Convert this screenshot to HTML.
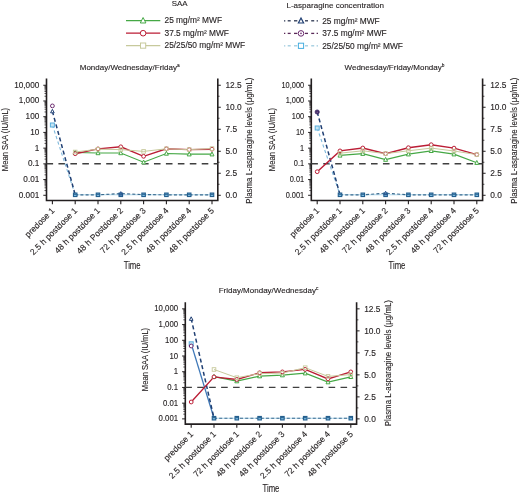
<!DOCTYPE html>
<html><head><meta charset="utf-8"><style>
html,body{margin:0;padding:0;background:#fff;}
svg{display:block;font-family:"Liberation Sans", sans-serif;will-change:transform;} text{stroke:#231f20;stroke-width:0.12px;}
</style></head><body>
<svg width="520" height="495" viewBox="0 0 520 495">
<rect width="520" height="495" fill="#fff"/>
<text x="179.60" y="6.40" font-size="7.9" text-anchor="middle" fill="#231f20" >SAA</text>
<text x="335.20" y="8.40" font-size="8.05" text-anchor="middle" fill="#231f20" >L-asparagine concentration</text>
<line x1="126" y1="20.6" x2="160.3" y2="20.6" stroke="#45a845" stroke-width="1.2"/>
<path d="M143.10,17.52 L145.90,22.98 L140.30,22.98 Z" fill="#fff" stroke="#45a845" stroke-width="1.0"/>
<text x="164.50" y="23.40" font-size="8.35" text-anchor="start" fill="#231f20" >25 mg/m² MWF</text>
<line x1="126" y1="33.2" x2="160.3" y2="33.2" stroke="#bb1d35" stroke-width="1.2"/>
<circle cx="143.10" cy="33.20" r="2.8" fill="#fff" stroke="#bb1d35" stroke-width="1.0"/>
<text x="164.50" y="36.00" font-size="8.35" text-anchor="start" fill="#231f20" >37.5 mg/m² MWF</text>
<line x1="126" y1="45.6" x2="160.3" y2="45.6" stroke="#c7c99c" stroke-width="1.2"/>
<rect x="140.50" y="43.00" width="5.20" height="5.20" fill="#fff" stroke="#c7c99c" stroke-width="1.0"/>
<text x="164.50" y="48.40" font-size="8.35" text-anchor="start" fill="#231f20" >25/25/50 mg/m² MWF</text>
<line x1="284" y1="20.8" x2="285.3" y2="20.8" stroke="#2a3550" stroke-width="1.3"/>
<line x1="287.7" y1="20.8" x2="290.7" y2="20.8" stroke="#2a3550" stroke-width="1.3"/>
<line x1="294" y1="20.8" x2="297.3" y2="20.8" stroke="#2a3550" stroke-width="1.3"/>
<line x1="305" y1="20.8" x2="308" y2="20.8" stroke="#2a3550" stroke-width="1.3"/>
<line x1="311.2" y1="20.8" x2="314.2" y2="20.8" stroke="#2a3550" stroke-width="1.3"/>
<line x1="316.6" y1="20.8" x2="318" y2="20.8" stroke="#2a3550" stroke-width="1.3"/>
<path d="M301.00,17.94 L303.60,23.01 L298.40,23.01 Z" fill="#fff" stroke="#1f3f73" stroke-width="1.2"/>
<text x="322.20" y="23.60" font-size="8.35" text-anchor="start" fill="#231f20" >25 mg/m² MWF</text>
<line x1="284" y1="33.400000000000006" x2="285.3" y2="33.400000000000006" stroke="#5a2a58" stroke-width="1.3"/>
<line x1="287.7" y1="33.400000000000006" x2="290.7" y2="33.400000000000006" stroke="#5a2a58" stroke-width="1.3"/>
<line x1="294" y1="33.400000000000006" x2="297.3" y2="33.400000000000006" stroke="#5a2a58" stroke-width="1.3"/>
<line x1="305" y1="33.400000000000006" x2="308" y2="33.400000000000006" stroke="#5a2a58" stroke-width="1.3"/>
<line x1="311.2" y1="33.400000000000006" x2="314.2" y2="33.400000000000006" stroke="#5a2a58" stroke-width="1.3"/>
<line x1="316.6" y1="33.400000000000006" x2="318" y2="33.400000000000006" stroke="#5a2a58" stroke-width="1.3"/>
<circle cx="301.00" cy="33.40" r="2.8" fill="#fff" stroke="#6a2a6e" stroke-width="1.0"/><circle cx="301.00" cy="33.40" r="0.8" fill="#6a2a6e"/>
<text x="322.20" y="36.20" font-size="8.35" text-anchor="start" fill="#231f20" >37.5 mg/m² MWF</text>
<line x1="284" y1="45.800000000000004" x2="285.3" y2="45.800000000000004" stroke="#9ccade" stroke-width="1.3"/>
<line x1="287.7" y1="45.800000000000004" x2="290.7" y2="45.800000000000004" stroke="#9ccade" stroke-width="1.3"/>
<line x1="294" y1="45.800000000000004" x2="297.3" y2="45.800000000000004" stroke="#9ccade" stroke-width="1.3"/>
<line x1="305" y1="45.800000000000004" x2="308" y2="45.800000000000004" stroke="#9ccade" stroke-width="1.3"/>
<line x1="311.2" y1="45.800000000000004" x2="314.2" y2="45.800000000000004" stroke="#9ccade" stroke-width="1.3"/>
<line x1="316.6" y1="45.800000000000004" x2="318" y2="45.800000000000004" stroke="#9ccade" stroke-width="1.3"/>
<rect x="298.40" y="43.20" width="5.20" height="5.20" fill="#fff" stroke="#47aee0" stroke-width="1.0"/>
<text x="322.20" y="48.60" font-size="8.35" text-anchor="start" fill="#231f20" >25/25/50 mg/m² MWF</text>
<g transform="translate(0,0)">
<text x="129.7" y="69.7" font-size="8" text-anchor="middle" fill="#231f20">Monday/Wednesday/Friday<tspan font-size="4.8" dy="-3">a</tspan></text>
<path d="M46.5,78.6 V200.55 H217.8 V78.6" fill="none" stroke="#231f20" stroke-width="1.6"/>
<line x1="43.3" y1="85.25" x2="46.5" y2="85.25" stroke="#231f20" stroke-width="1"/>
<text x="39.30" y="87.75" font-size="8.2" text-anchor="end" fill="#231f20" textLength="25.08" lengthAdjust="spacingAndGlyphs">10,000</text>
<line x1="44.5" y1="96.24" x2="46.5" y2="96.24" stroke="#231f20" stroke-width="0.75"/>
<line x1="44.5" y1="93.47" x2="46.5" y2="93.47" stroke="#231f20" stroke-width="0.75"/>
<line x1="44.5" y1="91.51" x2="46.5" y2="91.51" stroke="#231f20" stroke-width="0.75"/>
<line x1="44.5" y1="89.98" x2="46.5" y2="89.98" stroke="#231f20" stroke-width="0.75"/>
<line x1="44.5" y1="88.74" x2="46.5" y2="88.74" stroke="#231f20" stroke-width="0.75"/>
<line x1="44.5" y1="87.69" x2="46.5" y2="87.69" stroke="#231f20" stroke-width="0.75"/>
<line x1="44.5" y1="86.77" x2="46.5" y2="86.77" stroke="#231f20" stroke-width="0.75"/>
<line x1="44.5" y1="85.97" x2="46.5" y2="85.97" stroke="#231f20" stroke-width="0.75"/>
<line x1="43.3" y1="100.97" x2="46.5" y2="100.97" stroke="#231f20" stroke-width="1"/>
<text x="39.30" y="103.47" font-size="8.2" text-anchor="end" fill="#231f20" textLength="20.52" lengthAdjust="spacingAndGlyphs">1,000</text>
<line x1="44.5" y1="111.96" x2="46.5" y2="111.96" stroke="#231f20" stroke-width="0.75"/>
<line x1="44.5" y1="109.19" x2="46.5" y2="109.19" stroke="#231f20" stroke-width="0.75"/>
<line x1="44.5" y1="107.23" x2="46.5" y2="107.23" stroke="#231f20" stroke-width="0.75"/>
<line x1="44.5" y1="105.70" x2="46.5" y2="105.70" stroke="#231f20" stroke-width="0.75"/>
<line x1="44.5" y1="104.46" x2="46.5" y2="104.46" stroke="#231f20" stroke-width="0.75"/>
<line x1="44.5" y1="103.41" x2="46.5" y2="103.41" stroke="#231f20" stroke-width="0.75"/>
<line x1="44.5" y1="102.49" x2="46.5" y2="102.49" stroke="#231f20" stroke-width="0.75"/>
<line x1="44.5" y1="101.69" x2="46.5" y2="101.69" stroke="#231f20" stroke-width="0.75"/>
<line x1="43.3" y1="116.69" x2="46.5" y2="116.69" stroke="#231f20" stroke-width="1"/>
<text x="39.30" y="119.19" font-size="8.2" text-anchor="end" fill="#231f20" textLength="13.68" lengthAdjust="spacingAndGlyphs">100</text>
<line x1="44.5" y1="127.68" x2="46.5" y2="127.68" stroke="#231f20" stroke-width="0.75"/>
<line x1="44.5" y1="124.91" x2="46.5" y2="124.91" stroke="#231f20" stroke-width="0.75"/>
<line x1="44.5" y1="122.95" x2="46.5" y2="122.95" stroke="#231f20" stroke-width="0.75"/>
<line x1="44.5" y1="121.42" x2="46.5" y2="121.42" stroke="#231f20" stroke-width="0.75"/>
<line x1="44.5" y1="120.18" x2="46.5" y2="120.18" stroke="#231f20" stroke-width="0.75"/>
<line x1="44.5" y1="119.13" x2="46.5" y2="119.13" stroke="#231f20" stroke-width="0.75"/>
<line x1="44.5" y1="118.21" x2="46.5" y2="118.21" stroke="#231f20" stroke-width="0.75"/>
<line x1="44.5" y1="117.41" x2="46.5" y2="117.41" stroke="#231f20" stroke-width="0.75"/>
<line x1="43.3" y1="132.41" x2="46.5" y2="132.41" stroke="#231f20" stroke-width="1"/>
<text x="39.30" y="134.91" font-size="8.2" text-anchor="end" fill="#231f20" textLength="9.12" lengthAdjust="spacingAndGlyphs">10</text>
<line x1="44.5" y1="143.40" x2="46.5" y2="143.40" stroke="#231f20" stroke-width="0.75"/>
<line x1="44.5" y1="140.63" x2="46.5" y2="140.63" stroke="#231f20" stroke-width="0.75"/>
<line x1="44.5" y1="138.67" x2="46.5" y2="138.67" stroke="#231f20" stroke-width="0.75"/>
<line x1="44.5" y1="137.14" x2="46.5" y2="137.14" stroke="#231f20" stroke-width="0.75"/>
<line x1="44.5" y1="135.90" x2="46.5" y2="135.90" stroke="#231f20" stroke-width="0.75"/>
<line x1="44.5" y1="134.85" x2="46.5" y2="134.85" stroke="#231f20" stroke-width="0.75"/>
<line x1="44.5" y1="133.93" x2="46.5" y2="133.93" stroke="#231f20" stroke-width="0.75"/>
<line x1="44.5" y1="133.13" x2="46.5" y2="133.13" stroke="#231f20" stroke-width="0.75"/>
<line x1="43.3" y1="148.13" x2="46.5" y2="148.13" stroke="#231f20" stroke-width="1"/>
<text x="39.30" y="150.63" font-size="8.2" text-anchor="end" fill="#231f20" textLength="4.56" lengthAdjust="spacingAndGlyphs">1</text>
<line x1="44.5" y1="159.12" x2="46.5" y2="159.12" stroke="#231f20" stroke-width="0.75"/>
<line x1="44.5" y1="156.35" x2="46.5" y2="156.35" stroke="#231f20" stroke-width="0.75"/>
<line x1="44.5" y1="154.39" x2="46.5" y2="154.39" stroke="#231f20" stroke-width="0.75"/>
<line x1="44.5" y1="152.86" x2="46.5" y2="152.86" stroke="#231f20" stroke-width="0.75"/>
<line x1="44.5" y1="151.62" x2="46.5" y2="151.62" stroke="#231f20" stroke-width="0.75"/>
<line x1="44.5" y1="150.57" x2="46.5" y2="150.57" stroke="#231f20" stroke-width="0.75"/>
<line x1="44.5" y1="149.65" x2="46.5" y2="149.65" stroke="#231f20" stroke-width="0.75"/>
<line x1="44.5" y1="148.85" x2="46.5" y2="148.85" stroke="#231f20" stroke-width="0.75"/>
<line x1="43.3" y1="163.85" x2="46.5" y2="163.85" stroke="#231f20" stroke-width="1"/>
<text x="39.30" y="166.35" font-size="8.2" text-anchor="end" fill="#231f20" textLength="11.40" lengthAdjust="spacingAndGlyphs">0.1</text>
<line x1="44.5" y1="174.84" x2="46.5" y2="174.84" stroke="#231f20" stroke-width="0.75"/>
<line x1="44.5" y1="172.07" x2="46.5" y2="172.07" stroke="#231f20" stroke-width="0.75"/>
<line x1="44.5" y1="170.11" x2="46.5" y2="170.11" stroke="#231f20" stroke-width="0.75"/>
<line x1="44.5" y1="168.58" x2="46.5" y2="168.58" stroke="#231f20" stroke-width="0.75"/>
<line x1="44.5" y1="167.34" x2="46.5" y2="167.34" stroke="#231f20" stroke-width="0.75"/>
<line x1="44.5" y1="166.29" x2="46.5" y2="166.29" stroke="#231f20" stroke-width="0.75"/>
<line x1="44.5" y1="165.37" x2="46.5" y2="165.37" stroke="#231f20" stroke-width="0.75"/>
<line x1="44.5" y1="164.57" x2="46.5" y2="164.57" stroke="#231f20" stroke-width="0.75"/>
<line x1="43.3" y1="179.57" x2="46.5" y2="179.57" stroke="#231f20" stroke-width="1"/>
<text x="39.30" y="182.07" font-size="8.2" text-anchor="end" fill="#231f20" textLength="15.96" lengthAdjust="spacingAndGlyphs">0.01</text>
<line x1="44.5" y1="190.56" x2="46.5" y2="190.56" stroke="#231f20" stroke-width="0.75"/>
<line x1="44.5" y1="187.79" x2="46.5" y2="187.79" stroke="#231f20" stroke-width="0.75"/>
<line x1="44.5" y1="185.83" x2="46.5" y2="185.83" stroke="#231f20" stroke-width="0.75"/>
<line x1="44.5" y1="184.30" x2="46.5" y2="184.30" stroke="#231f20" stroke-width="0.75"/>
<line x1="44.5" y1="183.06" x2="46.5" y2="183.06" stroke="#231f20" stroke-width="0.75"/>
<line x1="44.5" y1="182.01" x2="46.5" y2="182.01" stroke="#231f20" stroke-width="0.75"/>
<line x1="44.5" y1="181.09" x2="46.5" y2="181.09" stroke="#231f20" stroke-width="0.75"/>
<line x1="44.5" y1="180.29" x2="46.5" y2="180.29" stroke="#231f20" stroke-width="0.75"/>
<line x1="43.3" y1="195.29" x2="46.5" y2="195.29" stroke="#231f20" stroke-width="1"/>
<text x="39.30" y="197.79" font-size="8.2" text-anchor="end" fill="#231f20" textLength="20.52" lengthAdjust="spacingAndGlyphs">0.001</text>
<line x1="217.8" y1="85.25" x2="220.8" y2="85.25" stroke="#231f20" stroke-width="1"/>
<text x="225.40" y="88.05" font-size="8.4" text-anchor="start" fill="#231f20" >12.5</text>
<line x1="217.8" y1="96.25" x2="219.60000000000002" y2="96.25" stroke="#231f20" stroke-width="0.8"/>
<line x1="217.8" y1="107.26" x2="220.8" y2="107.26" stroke="#231f20" stroke-width="1"/>
<text x="225.40" y="110.06" font-size="8.4" text-anchor="start" fill="#231f20" >10.0</text>
<line x1="217.8" y1="118.26" x2="219.60000000000002" y2="118.26" stroke="#231f20" stroke-width="0.8"/>
<line x1="217.8" y1="129.27" x2="220.8" y2="129.27" stroke="#231f20" stroke-width="1"/>
<text x="225.40" y="132.07" font-size="8.4" text-anchor="start" fill="#231f20" >7.5</text>
<line x1="217.8" y1="140.27" x2="219.60000000000002" y2="140.27" stroke="#231f20" stroke-width="0.8"/>
<line x1="217.8" y1="151.27" x2="220.8" y2="151.27" stroke="#231f20" stroke-width="1"/>
<text x="225.40" y="154.07" font-size="8.4" text-anchor="start" fill="#231f20" >5.0</text>
<line x1="217.8" y1="162.28" x2="219.60000000000002" y2="162.28" stroke="#231f20" stroke-width="0.8"/>
<line x1="217.8" y1="173.28" x2="220.8" y2="173.28" stroke="#231f20" stroke-width="1"/>
<text x="225.40" y="176.08" font-size="8.4" text-anchor="start" fill="#231f20" >2.5</text>
<line x1="217.8" y1="184.29" x2="219.60000000000002" y2="184.29" stroke="#231f20" stroke-width="0.8"/>
<line x1="217.8" y1="195.29" x2="220.8" y2="195.29" stroke="#231f20" stroke-width="1"/>
<text x="225.40" y="198.09" font-size="8.4" text-anchor="start" fill="#231f20" >0.0</text>
<line x1="52.40" y1="200.55" x2="52.40" y2="204.15" stroke="#231f20" stroke-width="1.1"/>
<text transform="translate(55.10,211.15) rotate(-45)" font-size="8.5" text-anchor="end" fill="#231f20">predose 1</text>
<line x1="75.20" y1="200.55" x2="75.20" y2="204.15" stroke="#231f20" stroke-width="1.1"/>
<text transform="translate(77.90,211.15) rotate(-45)" font-size="8.5" text-anchor="end" fill="#231f20">2.5 h postdose 1</text>
<line x1="98.00" y1="200.55" x2="98.00" y2="204.15" stroke="#231f20" stroke-width="1.1"/>
<text transform="translate(100.70,211.15) rotate(-45)" font-size="8.5" text-anchor="end" fill="#231f20">48 h postdose 1</text>
<line x1="120.80" y1="200.55" x2="120.80" y2="204.15" stroke="#231f20" stroke-width="1.1"/>
<text transform="translate(123.50,211.15) rotate(-45)" font-size="8.5" text-anchor="end" fill="#231f20">48 h Postdose 2</text>
<line x1="143.60" y1="200.55" x2="143.60" y2="204.15" stroke="#231f20" stroke-width="1.1"/>
<text transform="translate(146.30,211.15) rotate(-45)" font-size="8.5" text-anchor="end" fill="#231f20">72 h postdose 3</text>
<line x1="166.40" y1="200.55" x2="166.40" y2="204.15" stroke="#231f20" stroke-width="1.1"/>
<text transform="translate(169.10,211.15) rotate(-45)" font-size="8.5" text-anchor="end" fill="#231f20">2.5 h postdose 4</text>
<line x1="189.20" y1="200.55" x2="189.20" y2="204.15" stroke="#231f20" stroke-width="1.1"/>
<text transform="translate(191.90,211.15) rotate(-45)" font-size="8.5" text-anchor="end" fill="#231f20">48 h postdose 4</text>
<line x1="212.00" y1="200.55" x2="212.00" y2="204.15" stroke="#231f20" stroke-width="1.1"/>
<text transform="translate(214.70,211.15) rotate(-45)" font-size="8.5" text-anchor="end" fill="#231f20">48 h postdose 5</text>
<text transform="translate(8.4,139.5) rotate(-90)" font-size="9.2" text-anchor="middle" fill="#231f20" textLength="63.3" lengthAdjust="spacingAndGlyphs">Mean SAA (IU/mL)</text>
<text transform="translate(251.9,140.7) rotate(-90)" font-size="9.3" text-anchor="middle" fill="#231f20" textLength="126.2" lengthAdjust="spacingAndGlyphs">Plasma L-asparagine levels (μg/mL)</text>
<text x="132.15" y="268.8" font-size="10.3" text-anchor="middle" fill="#231f20" textLength="16.9" lengthAdjust="spacingAndGlyphs">Time</text>
<line x1="46.5" y1="163.75" x2="217.8" y2="163.75" stroke="#404040" stroke-width="1.35" stroke-dasharray="6.6,5.34"/>
<polyline points="52.40,125.00 75.20,194.80" fill="none" stroke="#7fb9dc" stroke-width="1.1" stroke-dasharray="3.2,2.6"/>
<polyline points="52.40,111.30 75.20,194.80" fill="none" stroke="#1f3f73" stroke-width="1.5" stroke-dasharray="4,2.8"/>
<polyline points="75.20,194.80 98.00,194.80 120.80,194.80 143.60,194.80 166.40,194.80 189.20,194.80 212.00,194.80" fill="none" stroke="#b0d8ec" stroke-width="1.1"/>
<polyline points="75.20,194.80 98.00,194.80 120.80,193.60 143.60,194.60 166.40,194.80 189.20,194.80 212.00,194.80" fill="none" stroke="#3a6a8e" stroke-width="1.15" stroke-dasharray="3,2.2"/>
<polyline points="75.20,152.50 98.00,153.00 120.80,153.00 143.60,162.20 166.40,153.50 189.20,154.20 212.00,154.20" fill="none" stroke="#45a845" stroke-width="1.2"/>
<polyline points="75.20,153.70 98.00,148.90 120.80,146.80 143.60,156.30 166.40,148.80 189.20,149.60 212.00,149.20" fill="none" stroke="#bb1d35" stroke-width="1.4"/>
<polyline points="75.20,152.00 98.00,149.20 120.80,149.60 143.60,151.40 166.40,148.80 189.20,149.60 212.00,148.60" fill="none" stroke="#c7c99c" stroke-width="1.0"/>
<path d="M75.20,150.30 L77.20,154.20 L73.20,154.20 Z" fill="#fff" stroke="#45a845" stroke-width="1.0"/>
<path d="M98.00,150.80 L100.00,154.70 L96.00,154.70 Z" fill="#fff" stroke="#45a845" stroke-width="1.0"/>
<path d="M120.80,150.80 L122.80,154.70 L118.80,154.70 Z" fill="#fff" stroke="#45a845" stroke-width="1.0"/>
<path d="M143.60,160.00 L145.60,163.90 L141.60,163.90 Z" fill="#fff" stroke="#45a845" stroke-width="1.0"/>
<path d="M166.40,151.30 L168.40,155.20 L164.40,155.20 Z" fill="#fff" stroke="#45a845" stroke-width="1.0"/>
<path d="M189.20,152.00 L191.20,155.90 L187.20,155.90 Z" fill="#fff" stroke="#45a845" stroke-width="1.0"/>
<path d="M212.00,152.00 L214.00,155.90 L210.00,155.90 Z" fill="#fff" stroke="#45a845" stroke-width="1.0"/>
<circle cx="75.20" cy="153.70" r="1.9" fill="#fff" stroke="#bb1d35" stroke-width="1.0"/>
<circle cx="98.00" cy="148.90" r="1.9" fill="#fff" stroke="#bb1d35" stroke-width="1.0"/>
<circle cx="120.80" cy="146.80" r="1.9" fill="#fff" stroke="#bb1d35" stroke-width="1.0"/>
<circle cx="143.60" cy="156.30" r="1.9" fill="#fff" stroke="#bb1d35" stroke-width="1.0"/>
<circle cx="166.40" cy="148.80" r="1.9" fill="#fff" stroke="#bb1d35" stroke-width="1.0"/>
<circle cx="189.20" cy="149.60" r="1.9" fill="#fff" stroke="#bb1d35" stroke-width="1.0"/>
<circle cx="212.00" cy="149.20" r="1.9" fill="#fff" stroke="#bb1d35" stroke-width="1.0"/>
<rect x="73.40" y="150.20" width="3.60" height="3.60" fill="none" stroke="#c7c99c" stroke-width="0.9"/>
<rect x="96.20" y="147.40" width="3.60" height="3.60" fill="none" stroke="#c7c99c" stroke-width="0.9"/>
<rect x="119.00" y="147.80" width="3.60" height="3.60" fill="none" stroke="#c7c99c" stroke-width="0.9"/>
<rect x="141.80" y="149.60" width="3.60" height="3.60" fill="none" stroke="#c7c99c" stroke-width="0.9"/>
<rect x="164.60" y="147.00" width="3.60" height="3.60" fill="none" stroke="#c7c99c" stroke-width="0.9"/>
<rect x="187.40" y="147.80" width="3.60" height="3.60" fill="none" stroke="#c7c99c" stroke-width="0.9"/>
<rect x="210.20" y="146.80" width="3.60" height="3.60" fill="none" stroke="#c7c99c" stroke-width="0.9"/>
<rect x="50.40" y="123.00" width="4.00" height="4.00" fill="#c4e4f4" stroke="#5aaedc" stroke-width="1.0"/>
<circle cx="52.40" cy="105.90" r="1.9" fill="#fff" stroke="#6a2a6e" stroke-width="1.0"/>
<path d="M52.40,109.32 L54.20,112.83 L50.60,112.83 Z" fill="#fff" stroke="#1f3f73" stroke-width="1.0"/>
<rect x="73.45" y="193.05" width="3.5" height="3.5" fill="#78b8de" stroke="#245f8e" stroke-width="1.1"/>
<rect x="73.80" y="193.80" width="2.8" height="0.9" fill="#1f5585"/>
<rect x="96.25" y="193.05" width="3.5" height="3.5" fill="#78b8de" stroke="#245f8e" stroke-width="1.1"/>
<rect x="96.60" y="193.80" width="2.8" height="0.9" fill="#1f5585"/>
<rect x="119.05" y="193.05" width="3.5" height="3.5" fill="#78b8de" stroke="#245f8e" stroke-width="1.1"/>
<rect x="119.40" y="193.80" width="2.8" height="0.9" fill="#1f5585"/>
<path d="M120.80,191.62 L122.60,195.13 L119.00,195.13 Z" fill="none" stroke="#2a5590" stroke-width="1.0"/>
<rect x="141.85" y="193.05" width="3.5" height="3.5" fill="#78b8de" stroke="#245f8e" stroke-width="1.1"/>
<rect x="142.20" y="193.80" width="2.8" height="0.9" fill="#1f5585"/>
<rect x="164.65" y="193.05" width="3.5" height="3.5" fill="#78b8de" stroke="#245f8e" stroke-width="1.1"/>
<rect x="165.00" y="193.80" width="2.8" height="0.9" fill="#1f5585"/>
<rect x="187.45" y="193.05" width="3.5" height="3.5" fill="#78b8de" stroke="#245f8e" stroke-width="1.1"/>
<rect x="187.80" y="193.80" width="2.8" height="0.9" fill="#1f5585"/>
<rect x="210.25" y="193.05" width="3.5" height="3.5" fill="#78b8de" stroke="#245f8e" stroke-width="1.1"/>
<rect x="210.60" y="193.80" width="2.8" height="0.9" fill="#1f5585"/>
</g>
<g transform="translate(264.8,0)">
<text x="129.7" y="69.7" font-size="8" text-anchor="middle" fill="#231f20">Wednesday/Friday/Monday<tspan font-size="4.8" dy="-3">b</tspan></text>
<path d="M46.5,78.6 V200.55 H217.8 V78.6" fill="none" stroke="#231f20" stroke-width="1.6"/>
<line x1="43.3" y1="85.25" x2="46.5" y2="85.25" stroke="#231f20" stroke-width="1"/>
<text x="39.30" y="87.75" font-size="8.2" text-anchor="end" fill="#231f20" textLength="22.57" lengthAdjust="spacingAndGlyphs">10,000</text>
<line x1="44.5" y1="96.24" x2="46.5" y2="96.24" stroke="#231f20" stroke-width="0.75"/>
<line x1="44.5" y1="93.47" x2="46.5" y2="93.47" stroke="#231f20" stroke-width="0.75"/>
<line x1="44.5" y1="91.51" x2="46.5" y2="91.51" stroke="#231f20" stroke-width="0.75"/>
<line x1="44.5" y1="89.98" x2="46.5" y2="89.98" stroke="#231f20" stroke-width="0.75"/>
<line x1="44.5" y1="88.74" x2="46.5" y2="88.74" stroke="#231f20" stroke-width="0.75"/>
<line x1="44.5" y1="87.69" x2="46.5" y2="87.69" stroke="#231f20" stroke-width="0.75"/>
<line x1="44.5" y1="86.77" x2="46.5" y2="86.77" stroke="#231f20" stroke-width="0.75"/>
<line x1="44.5" y1="85.97" x2="46.5" y2="85.97" stroke="#231f20" stroke-width="0.75"/>
<line x1="43.3" y1="100.97" x2="46.5" y2="100.97" stroke="#231f20" stroke-width="1"/>
<text x="39.30" y="103.47" font-size="8.2" text-anchor="end" fill="#231f20" textLength="18.47" lengthAdjust="spacingAndGlyphs">1,000</text>
<line x1="44.5" y1="111.96" x2="46.5" y2="111.96" stroke="#231f20" stroke-width="0.75"/>
<line x1="44.5" y1="109.19" x2="46.5" y2="109.19" stroke="#231f20" stroke-width="0.75"/>
<line x1="44.5" y1="107.23" x2="46.5" y2="107.23" stroke="#231f20" stroke-width="0.75"/>
<line x1="44.5" y1="105.70" x2="46.5" y2="105.70" stroke="#231f20" stroke-width="0.75"/>
<line x1="44.5" y1="104.46" x2="46.5" y2="104.46" stroke="#231f20" stroke-width="0.75"/>
<line x1="44.5" y1="103.41" x2="46.5" y2="103.41" stroke="#231f20" stroke-width="0.75"/>
<line x1="44.5" y1="102.49" x2="46.5" y2="102.49" stroke="#231f20" stroke-width="0.75"/>
<line x1="44.5" y1="101.69" x2="46.5" y2="101.69" stroke="#231f20" stroke-width="0.75"/>
<line x1="43.3" y1="116.69" x2="46.5" y2="116.69" stroke="#231f20" stroke-width="1"/>
<text x="39.30" y="119.19" font-size="8.2" text-anchor="end" fill="#231f20" textLength="12.31" lengthAdjust="spacingAndGlyphs">100</text>
<line x1="44.5" y1="127.68" x2="46.5" y2="127.68" stroke="#231f20" stroke-width="0.75"/>
<line x1="44.5" y1="124.91" x2="46.5" y2="124.91" stroke="#231f20" stroke-width="0.75"/>
<line x1="44.5" y1="122.95" x2="46.5" y2="122.95" stroke="#231f20" stroke-width="0.75"/>
<line x1="44.5" y1="121.42" x2="46.5" y2="121.42" stroke="#231f20" stroke-width="0.75"/>
<line x1="44.5" y1="120.18" x2="46.5" y2="120.18" stroke="#231f20" stroke-width="0.75"/>
<line x1="44.5" y1="119.13" x2="46.5" y2="119.13" stroke="#231f20" stroke-width="0.75"/>
<line x1="44.5" y1="118.21" x2="46.5" y2="118.21" stroke="#231f20" stroke-width="0.75"/>
<line x1="44.5" y1="117.41" x2="46.5" y2="117.41" stroke="#231f20" stroke-width="0.75"/>
<line x1="43.3" y1="132.41" x2="46.5" y2="132.41" stroke="#231f20" stroke-width="1"/>
<text x="39.30" y="134.91" font-size="8.2" text-anchor="end" fill="#231f20" textLength="8.21" lengthAdjust="spacingAndGlyphs">10</text>
<line x1="44.5" y1="143.40" x2="46.5" y2="143.40" stroke="#231f20" stroke-width="0.75"/>
<line x1="44.5" y1="140.63" x2="46.5" y2="140.63" stroke="#231f20" stroke-width="0.75"/>
<line x1="44.5" y1="138.67" x2="46.5" y2="138.67" stroke="#231f20" stroke-width="0.75"/>
<line x1="44.5" y1="137.14" x2="46.5" y2="137.14" stroke="#231f20" stroke-width="0.75"/>
<line x1="44.5" y1="135.90" x2="46.5" y2="135.90" stroke="#231f20" stroke-width="0.75"/>
<line x1="44.5" y1="134.85" x2="46.5" y2="134.85" stroke="#231f20" stroke-width="0.75"/>
<line x1="44.5" y1="133.93" x2="46.5" y2="133.93" stroke="#231f20" stroke-width="0.75"/>
<line x1="44.5" y1="133.13" x2="46.5" y2="133.13" stroke="#231f20" stroke-width="0.75"/>
<line x1="43.3" y1="148.13" x2="46.5" y2="148.13" stroke="#231f20" stroke-width="1"/>
<text x="39.30" y="150.63" font-size="8.2" text-anchor="end" fill="#231f20" textLength="4.10" lengthAdjust="spacingAndGlyphs">1</text>
<line x1="44.5" y1="159.12" x2="46.5" y2="159.12" stroke="#231f20" stroke-width="0.75"/>
<line x1="44.5" y1="156.35" x2="46.5" y2="156.35" stroke="#231f20" stroke-width="0.75"/>
<line x1="44.5" y1="154.39" x2="46.5" y2="154.39" stroke="#231f20" stroke-width="0.75"/>
<line x1="44.5" y1="152.86" x2="46.5" y2="152.86" stroke="#231f20" stroke-width="0.75"/>
<line x1="44.5" y1="151.62" x2="46.5" y2="151.62" stroke="#231f20" stroke-width="0.75"/>
<line x1="44.5" y1="150.57" x2="46.5" y2="150.57" stroke="#231f20" stroke-width="0.75"/>
<line x1="44.5" y1="149.65" x2="46.5" y2="149.65" stroke="#231f20" stroke-width="0.75"/>
<line x1="44.5" y1="148.85" x2="46.5" y2="148.85" stroke="#231f20" stroke-width="0.75"/>
<line x1="43.3" y1="163.85" x2="46.5" y2="163.85" stroke="#231f20" stroke-width="1"/>
<text x="39.30" y="166.35" font-size="8.2" text-anchor="end" fill="#231f20" textLength="10.26" lengthAdjust="spacingAndGlyphs">0.1</text>
<line x1="44.5" y1="174.84" x2="46.5" y2="174.84" stroke="#231f20" stroke-width="0.75"/>
<line x1="44.5" y1="172.07" x2="46.5" y2="172.07" stroke="#231f20" stroke-width="0.75"/>
<line x1="44.5" y1="170.11" x2="46.5" y2="170.11" stroke="#231f20" stroke-width="0.75"/>
<line x1="44.5" y1="168.58" x2="46.5" y2="168.58" stroke="#231f20" stroke-width="0.75"/>
<line x1="44.5" y1="167.34" x2="46.5" y2="167.34" stroke="#231f20" stroke-width="0.75"/>
<line x1="44.5" y1="166.29" x2="46.5" y2="166.29" stroke="#231f20" stroke-width="0.75"/>
<line x1="44.5" y1="165.37" x2="46.5" y2="165.37" stroke="#231f20" stroke-width="0.75"/>
<line x1="44.5" y1="164.57" x2="46.5" y2="164.57" stroke="#231f20" stroke-width="0.75"/>
<line x1="43.3" y1="179.57" x2="46.5" y2="179.57" stroke="#231f20" stroke-width="1"/>
<text x="39.30" y="182.07" font-size="8.2" text-anchor="end" fill="#231f20" textLength="14.36" lengthAdjust="spacingAndGlyphs">0.01</text>
<line x1="44.5" y1="190.56" x2="46.5" y2="190.56" stroke="#231f20" stroke-width="0.75"/>
<line x1="44.5" y1="187.79" x2="46.5" y2="187.79" stroke="#231f20" stroke-width="0.75"/>
<line x1="44.5" y1="185.83" x2="46.5" y2="185.83" stroke="#231f20" stroke-width="0.75"/>
<line x1="44.5" y1="184.30" x2="46.5" y2="184.30" stroke="#231f20" stroke-width="0.75"/>
<line x1="44.5" y1="183.06" x2="46.5" y2="183.06" stroke="#231f20" stroke-width="0.75"/>
<line x1="44.5" y1="182.01" x2="46.5" y2="182.01" stroke="#231f20" stroke-width="0.75"/>
<line x1="44.5" y1="181.09" x2="46.5" y2="181.09" stroke="#231f20" stroke-width="0.75"/>
<line x1="44.5" y1="180.29" x2="46.5" y2="180.29" stroke="#231f20" stroke-width="0.75"/>
<line x1="43.3" y1="195.29" x2="46.5" y2="195.29" stroke="#231f20" stroke-width="1"/>
<text x="39.30" y="197.79" font-size="8.2" text-anchor="end" fill="#231f20" textLength="18.47" lengthAdjust="spacingAndGlyphs">0.001</text>
<line x1="217.8" y1="85.25" x2="220.8" y2="85.25" stroke="#231f20" stroke-width="1"/>
<text x="225.40" y="88.05" font-size="8.4" text-anchor="start" fill="#231f20" >12.5</text>
<line x1="217.8" y1="96.25" x2="219.60000000000002" y2="96.25" stroke="#231f20" stroke-width="0.8"/>
<line x1="217.8" y1="107.26" x2="220.8" y2="107.26" stroke="#231f20" stroke-width="1"/>
<text x="225.40" y="110.06" font-size="8.4" text-anchor="start" fill="#231f20" >10.0</text>
<line x1="217.8" y1="118.26" x2="219.60000000000002" y2="118.26" stroke="#231f20" stroke-width="0.8"/>
<line x1="217.8" y1="129.27" x2="220.8" y2="129.27" stroke="#231f20" stroke-width="1"/>
<text x="225.40" y="132.07" font-size="8.4" text-anchor="start" fill="#231f20" >7.5</text>
<line x1="217.8" y1="140.27" x2="219.60000000000002" y2="140.27" stroke="#231f20" stroke-width="0.8"/>
<line x1="217.8" y1="151.27" x2="220.8" y2="151.27" stroke="#231f20" stroke-width="1"/>
<text x="225.40" y="154.07" font-size="8.4" text-anchor="start" fill="#231f20" >5.0</text>
<line x1="217.8" y1="162.28" x2="219.60000000000002" y2="162.28" stroke="#231f20" stroke-width="0.8"/>
<line x1="217.8" y1="173.28" x2="220.8" y2="173.28" stroke="#231f20" stroke-width="1"/>
<text x="225.40" y="176.08" font-size="8.4" text-anchor="start" fill="#231f20" >2.5</text>
<line x1="217.8" y1="184.29" x2="219.60000000000002" y2="184.29" stroke="#231f20" stroke-width="0.8"/>
<line x1="217.8" y1="195.29" x2="220.8" y2="195.29" stroke="#231f20" stroke-width="1"/>
<text x="225.40" y="198.09" font-size="8.4" text-anchor="start" fill="#231f20" >0.0</text>
<line x1="52.40" y1="200.55" x2="52.40" y2="204.15" stroke="#231f20" stroke-width="1.1"/>
<text transform="translate(55.10,211.15) rotate(-45)" font-size="8.5" text-anchor="end" fill="#231f20">predose 1</text>
<line x1="75.20" y1="200.55" x2="75.20" y2="204.15" stroke="#231f20" stroke-width="1.1"/>
<text transform="translate(77.90,211.15) rotate(-45)" font-size="8.5" text-anchor="end" fill="#231f20">2.5 h postdose 1</text>
<line x1="98.00" y1="200.55" x2="98.00" y2="204.15" stroke="#231f20" stroke-width="1.1"/>
<text transform="translate(100.70,211.15) rotate(-45)" font-size="8.5" text-anchor="end" fill="#231f20">48 h postdose 1</text>
<line x1="120.80" y1="200.55" x2="120.80" y2="204.15" stroke="#231f20" stroke-width="1.1"/>
<text transform="translate(123.50,211.15) rotate(-45)" font-size="8.5" text-anchor="end" fill="#231f20">72 h postdose 2</text>
<line x1="143.60" y1="200.55" x2="143.60" y2="204.15" stroke="#231f20" stroke-width="1.1"/>
<text transform="translate(146.30,211.15) rotate(-45)" font-size="8.5" text-anchor="end" fill="#231f20">48 h postdose 3</text>
<line x1="166.40" y1="200.55" x2="166.40" y2="204.15" stroke="#231f20" stroke-width="1.1"/>
<text transform="translate(169.10,211.15) rotate(-45)" font-size="8.5" text-anchor="end" fill="#231f20">2.5 h postdose 4</text>
<line x1="189.20" y1="200.55" x2="189.20" y2="204.15" stroke="#231f20" stroke-width="1.1"/>
<text transform="translate(191.90,211.15) rotate(-45)" font-size="8.5" text-anchor="end" fill="#231f20">48 h postdose 4</text>
<line x1="212.00" y1="200.55" x2="212.00" y2="204.15" stroke="#231f20" stroke-width="1.1"/>
<text transform="translate(214.70,211.15) rotate(-45)" font-size="8.5" text-anchor="end" fill="#231f20">72 h postdose 5</text>
<text transform="translate(10.4,139.5) rotate(-90)" font-size="9.2" text-anchor="middle" fill="#231f20" textLength="63.3" lengthAdjust="spacingAndGlyphs">Mean SAA (IU/mL)</text>
<text transform="translate(251.9,140.7) rotate(-90)" font-size="9.3" text-anchor="middle" fill="#231f20" textLength="126.2" lengthAdjust="spacingAndGlyphs">Plasma L-asparagine levels (μg/mL)</text>
<text x="132.15" y="268.8" font-size="10.3" text-anchor="middle" fill="#231f20" textLength="16.9" lengthAdjust="spacingAndGlyphs">Time</text>
<line x1="46.5" y1="163.75" x2="217.8" y2="163.75" stroke="#404040" stroke-width="1.35" stroke-dasharray="6.6,5.34"/>
<polyline points="52.40,128.00 75.20,194.80" fill="none" stroke="#7fb9dc" stroke-width="1.1" stroke-dasharray="3.2,2.6"/>
<polyline points="52.40,112.00 75.20,194.80" fill="none" stroke="#1f3f73" stroke-width="1.5" stroke-dasharray="4,2.8"/>
<polyline points="75.20,194.80 98.00,194.80 120.80,194.80 143.60,194.80 166.40,194.80 189.20,194.80 212.00,194.80" fill="none" stroke="#b0d8ec" stroke-width="1.1"/>
<polyline points="75.20,194.80 98.00,194.80 120.80,193.20 143.60,194.80 166.40,194.80 189.20,194.80 212.00,194.80" fill="none" stroke="#3a6a8e" stroke-width="1.15" stroke-dasharray="3,2.2"/>
<polyline points="75.20,155.40 98.00,153.70 120.80,159.60 143.60,154.20 166.40,150.80 189.20,154.20 212.00,162.70" fill="none" stroke="#45a845" stroke-width="1.2"/>
<polyline points="52.40,171.70 75.20,150.90 98.00,148.00 120.80,153.70 143.60,147.70 166.40,144.70 189.20,148.10 212.00,154.60" fill="none" stroke="#bb1d35" stroke-width="1.4"/>
<polyline points="75.20,153.20 98.00,150.80 120.80,153.60 143.60,150.80 166.40,148.10 189.20,151.00 212.00,154.60" fill="none" stroke="#c7c99c" stroke-width="1.0"/>
<path d="M75.20,153.20 L77.20,157.10 L73.20,157.10 Z" fill="#fff" stroke="#45a845" stroke-width="1.0"/>
<path d="M98.00,151.50 L100.00,155.40 L96.00,155.40 Z" fill="#fff" stroke="#45a845" stroke-width="1.0"/>
<path d="M120.80,157.40 L122.80,161.30 L118.80,161.30 Z" fill="#fff" stroke="#45a845" stroke-width="1.0"/>
<path d="M143.60,152.00 L145.60,155.90 L141.60,155.90 Z" fill="#fff" stroke="#45a845" stroke-width="1.0"/>
<path d="M166.40,148.60 L168.40,152.50 L164.40,152.50 Z" fill="#fff" stroke="#45a845" stroke-width="1.0"/>
<path d="M189.20,152.00 L191.20,155.90 L187.20,155.90 Z" fill="#fff" stroke="#45a845" stroke-width="1.0"/>
<path d="M212.00,160.50 L214.00,164.40 L210.00,164.40 Z" fill="#fff" stroke="#45a845" stroke-width="1.0"/>
<circle cx="52.40" cy="171.70" r="1.9" fill="#fff" stroke="#bb1d35" stroke-width="1.0"/>
<circle cx="75.20" cy="150.90" r="1.9" fill="#fff" stroke="#bb1d35" stroke-width="1.0"/>
<circle cx="98.00" cy="148.00" r="1.9" fill="#fff" stroke="#bb1d35" stroke-width="1.0"/>
<circle cx="120.80" cy="153.70" r="1.9" fill="#fff" stroke="#bb1d35" stroke-width="1.0"/>
<circle cx="143.60" cy="147.70" r="1.9" fill="#fff" stroke="#bb1d35" stroke-width="1.0"/>
<circle cx="166.40" cy="144.70" r="1.9" fill="#fff" stroke="#bb1d35" stroke-width="1.0"/>
<circle cx="189.20" cy="148.10" r="1.9" fill="#fff" stroke="#bb1d35" stroke-width="1.0"/>
<circle cx="212.00" cy="154.60" r="1.9" fill="#fff" stroke="#bb1d35" stroke-width="1.0"/>
<rect x="73.40" y="151.40" width="3.60" height="3.60" fill="none" stroke="#c7c99c" stroke-width="0.9"/>
<rect x="96.20" y="149.00" width="3.60" height="3.60" fill="none" stroke="#c7c99c" stroke-width="0.9"/>
<rect x="119.00" y="151.80" width="3.60" height="3.60" fill="none" stroke="#c7c99c" stroke-width="0.9"/>
<rect x="141.80" y="149.00" width="3.60" height="3.60" fill="none" stroke="#c7c99c" stroke-width="0.9"/>
<rect x="164.60" y="146.30" width="3.60" height="3.60" fill="none" stroke="#c7c99c" stroke-width="0.9"/>
<rect x="187.40" y="149.20" width="3.60" height="3.60" fill="none" stroke="#c7c99c" stroke-width="0.9"/>
<rect x="210.20" y="152.80" width="3.60" height="3.60" fill="none" stroke="#c7c99c" stroke-width="0.9"/>
<rect x="50.40" y="126.00" width="4.00" height="4.00" fill="#c4e4f4" stroke="#5aaedc" stroke-width="1.0"/>
<circle cx="52.40" cy="112.00" r="2.1" fill="#3f2a66" stroke="#3f2a66" stroke-width="0.8"/>
<circle cx="52.40" cy="112.30" r="0.7" fill="#8a6a9a"/>
<rect x="73.45" y="193.05" width="3.5" height="3.5" fill="#78b8de" stroke="#245f8e" stroke-width="1.1"/>
<rect x="73.80" y="193.80" width="2.8" height="0.9" fill="#1f5585"/>
<rect x="96.25" y="193.05" width="3.5" height="3.5" fill="#78b8de" stroke="#245f8e" stroke-width="1.1"/>
<rect x="96.60" y="193.80" width="2.8" height="0.9" fill="#1f5585"/>
<rect x="119.05" y="193.05" width="3.5" height="3.5" fill="#78b8de" stroke="#245f8e" stroke-width="1.1"/>
<rect x="119.40" y="193.80" width="2.8" height="0.9" fill="#1f5585"/>
<path d="M120.80,191.22 L122.60,194.73 L119.00,194.73 Z" fill="none" stroke="#2a5590" stroke-width="1.0"/>
<rect x="141.85" y="193.05" width="3.5" height="3.5" fill="#78b8de" stroke="#245f8e" stroke-width="1.1"/>
<rect x="142.20" y="193.80" width="2.8" height="0.9" fill="#1f5585"/>
<rect x="164.65" y="193.05" width="3.5" height="3.5" fill="#78b8de" stroke="#245f8e" stroke-width="1.1"/>
<rect x="165.00" y="193.80" width="2.8" height="0.9" fill="#1f5585"/>
<rect x="187.45" y="193.05" width="3.5" height="3.5" fill="#78b8de" stroke="#245f8e" stroke-width="1.1"/>
<rect x="187.80" y="193.80" width="2.8" height="0.9" fill="#1f5585"/>
<rect x="210.25" y="193.05" width="3.5" height="3.5" fill="#78b8de" stroke="#245f8e" stroke-width="1.1"/>
<rect x="210.60" y="193.80" width="2.8" height="0.9" fill="#1f5585"/>
</g>
<g transform="translate(138.8,223.6)">
<text x="129.7" y="69.7" font-size="8" text-anchor="middle" fill="#231f20">Friday/Monday/Wednesday<tspan font-size="4.8" dy="-3">c</tspan></text>
<path d="M46.5,78.6 V200.55 H217.8 V78.6" fill="none" stroke="#231f20" stroke-width="1.6"/>
<line x1="43.3" y1="85.25" x2="46.5" y2="85.25" stroke="#231f20" stroke-width="1"/>
<text x="39.30" y="87.75" font-size="8.2" text-anchor="end" fill="#231f20" textLength="23.82" lengthAdjust="spacingAndGlyphs">10,000</text>
<line x1="44.5" y1="96.24" x2="46.5" y2="96.24" stroke="#231f20" stroke-width="0.75"/>
<line x1="44.5" y1="93.47" x2="46.5" y2="93.47" stroke="#231f20" stroke-width="0.75"/>
<line x1="44.5" y1="91.51" x2="46.5" y2="91.51" stroke="#231f20" stroke-width="0.75"/>
<line x1="44.5" y1="89.98" x2="46.5" y2="89.98" stroke="#231f20" stroke-width="0.75"/>
<line x1="44.5" y1="88.74" x2="46.5" y2="88.74" stroke="#231f20" stroke-width="0.75"/>
<line x1="44.5" y1="87.69" x2="46.5" y2="87.69" stroke="#231f20" stroke-width="0.75"/>
<line x1="44.5" y1="86.77" x2="46.5" y2="86.77" stroke="#231f20" stroke-width="0.75"/>
<line x1="44.5" y1="85.97" x2="46.5" y2="85.97" stroke="#231f20" stroke-width="0.75"/>
<line x1="43.3" y1="100.97" x2="46.5" y2="100.97" stroke="#231f20" stroke-width="1"/>
<text x="39.30" y="103.47" font-size="8.2" text-anchor="end" fill="#231f20" textLength="19.49" lengthAdjust="spacingAndGlyphs">1,000</text>
<line x1="44.5" y1="111.96" x2="46.5" y2="111.96" stroke="#231f20" stroke-width="0.75"/>
<line x1="44.5" y1="109.19" x2="46.5" y2="109.19" stroke="#231f20" stroke-width="0.75"/>
<line x1="44.5" y1="107.23" x2="46.5" y2="107.23" stroke="#231f20" stroke-width="0.75"/>
<line x1="44.5" y1="105.70" x2="46.5" y2="105.70" stroke="#231f20" stroke-width="0.75"/>
<line x1="44.5" y1="104.46" x2="46.5" y2="104.46" stroke="#231f20" stroke-width="0.75"/>
<line x1="44.5" y1="103.41" x2="46.5" y2="103.41" stroke="#231f20" stroke-width="0.75"/>
<line x1="44.5" y1="102.49" x2="46.5" y2="102.49" stroke="#231f20" stroke-width="0.75"/>
<line x1="44.5" y1="101.69" x2="46.5" y2="101.69" stroke="#231f20" stroke-width="0.75"/>
<line x1="43.3" y1="116.69" x2="46.5" y2="116.69" stroke="#231f20" stroke-width="1"/>
<text x="39.30" y="119.19" font-size="8.2" text-anchor="end" fill="#231f20" textLength="13.00" lengthAdjust="spacingAndGlyphs">100</text>
<line x1="44.5" y1="127.68" x2="46.5" y2="127.68" stroke="#231f20" stroke-width="0.75"/>
<line x1="44.5" y1="124.91" x2="46.5" y2="124.91" stroke="#231f20" stroke-width="0.75"/>
<line x1="44.5" y1="122.95" x2="46.5" y2="122.95" stroke="#231f20" stroke-width="0.75"/>
<line x1="44.5" y1="121.42" x2="46.5" y2="121.42" stroke="#231f20" stroke-width="0.75"/>
<line x1="44.5" y1="120.18" x2="46.5" y2="120.18" stroke="#231f20" stroke-width="0.75"/>
<line x1="44.5" y1="119.13" x2="46.5" y2="119.13" stroke="#231f20" stroke-width="0.75"/>
<line x1="44.5" y1="118.21" x2="46.5" y2="118.21" stroke="#231f20" stroke-width="0.75"/>
<line x1="44.5" y1="117.41" x2="46.5" y2="117.41" stroke="#231f20" stroke-width="0.75"/>
<line x1="43.3" y1="132.41" x2="46.5" y2="132.41" stroke="#231f20" stroke-width="1"/>
<text x="39.30" y="134.91" font-size="8.2" text-anchor="end" fill="#231f20" textLength="8.66" lengthAdjust="spacingAndGlyphs">10</text>
<line x1="44.5" y1="143.40" x2="46.5" y2="143.40" stroke="#231f20" stroke-width="0.75"/>
<line x1="44.5" y1="140.63" x2="46.5" y2="140.63" stroke="#231f20" stroke-width="0.75"/>
<line x1="44.5" y1="138.67" x2="46.5" y2="138.67" stroke="#231f20" stroke-width="0.75"/>
<line x1="44.5" y1="137.14" x2="46.5" y2="137.14" stroke="#231f20" stroke-width="0.75"/>
<line x1="44.5" y1="135.90" x2="46.5" y2="135.90" stroke="#231f20" stroke-width="0.75"/>
<line x1="44.5" y1="134.85" x2="46.5" y2="134.85" stroke="#231f20" stroke-width="0.75"/>
<line x1="44.5" y1="133.93" x2="46.5" y2="133.93" stroke="#231f20" stroke-width="0.75"/>
<line x1="44.5" y1="133.13" x2="46.5" y2="133.13" stroke="#231f20" stroke-width="0.75"/>
<line x1="43.3" y1="148.13" x2="46.5" y2="148.13" stroke="#231f20" stroke-width="1"/>
<text x="39.30" y="150.63" font-size="8.2" text-anchor="end" fill="#231f20" textLength="4.33" lengthAdjust="spacingAndGlyphs">1</text>
<line x1="44.5" y1="159.12" x2="46.5" y2="159.12" stroke="#231f20" stroke-width="0.75"/>
<line x1="44.5" y1="156.35" x2="46.5" y2="156.35" stroke="#231f20" stroke-width="0.75"/>
<line x1="44.5" y1="154.39" x2="46.5" y2="154.39" stroke="#231f20" stroke-width="0.75"/>
<line x1="44.5" y1="152.86" x2="46.5" y2="152.86" stroke="#231f20" stroke-width="0.75"/>
<line x1="44.5" y1="151.62" x2="46.5" y2="151.62" stroke="#231f20" stroke-width="0.75"/>
<line x1="44.5" y1="150.57" x2="46.5" y2="150.57" stroke="#231f20" stroke-width="0.75"/>
<line x1="44.5" y1="149.65" x2="46.5" y2="149.65" stroke="#231f20" stroke-width="0.75"/>
<line x1="44.5" y1="148.85" x2="46.5" y2="148.85" stroke="#231f20" stroke-width="0.75"/>
<line x1="43.3" y1="163.85" x2="46.5" y2="163.85" stroke="#231f20" stroke-width="1"/>
<text x="39.30" y="166.35" font-size="8.2" text-anchor="end" fill="#231f20" textLength="10.83" lengthAdjust="spacingAndGlyphs">0.1</text>
<line x1="44.5" y1="174.84" x2="46.5" y2="174.84" stroke="#231f20" stroke-width="0.75"/>
<line x1="44.5" y1="172.07" x2="46.5" y2="172.07" stroke="#231f20" stroke-width="0.75"/>
<line x1="44.5" y1="170.11" x2="46.5" y2="170.11" stroke="#231f20" stroke-width="0.75"/>
<line x1="44.5" y1="168.58" x2="46.5" y2="168.58" stroke="#231f20" stroke-width="0.75"/>
<line x1="44.5" y1="167.34" x2="46.5" y2="167.34" stroke="#231f20" stroke-width="0.75"/>
<line x1="44.5" y1="166.29" x2="46.5" y2="166.29" stroke="#231f20" stroke-width="0.75"/>
<line x1="44.5" y1="165.37" x2="46.5" y2="165.37" stroke="#231f20" stroke-width="0.75"/>
<line x1="44.5" y1="164.57" x2="46.5" y2="164.57" stroke="#231f20" stroke-width="0.75"/>
<line x1="43.3" y1="179.57" x2="46.5" y2="179.57" stroke="#231f20" stroke-width="1"/>
<text x="39.30" y="182.07" font-size="8.2" text-anchor="end" fill="#231f20" textLength="15.16" lengthAdjust="spacingAndGlyphs">0.01</text>
<line x1="44.5" y1="190.56" x2="46.5" y2="190.56" stroke="#231f20" stroke-width="0.75"/>
<line x1="44.5" y1="187.79" x2="46.5" y2="187.79" stroke="#231f20" stroke-width="0.75"/>
<line x1="44.5" y1="185.83" x2="46.5" y2="185.83" stroke="#231f20" stroke-width="0.75"/>
<line x1="44.5" y1="184.30" x2="46.5" y2="184.30" stroke="#231f20" stroke-width="0.75"/>
<line x1="44.5" y1="183.06" x2="46.5" y2="183.06" stroke="#231f20" stroke-width="0.75"/>
<line x1="44.5" y1="182.01" x2="46.5" y2="182.01" stroke="#231f20" stroke-width="0.75"/>
<line x1="44.5" y1="181.09" x2="46.5" y2="181.09" stroke="#231f20" stroke-width="0.75"/>
<line x1="44.5" y1="180.29" x2="46.5" y2="180.29" stroke="#231f20" stroke-width="0.75"/>
<line x1="43.3" y1="195.29" x2="46.5" y2="195.29" stroke="#231f20" stroke-width="1"/>
<text x="39.30" y="197.79" font-size="8.2" text-anchor="end" fill="#231f20" textLength="19.49" lengthAdjust="spacingAndGlyphs">0.001</text>
<line x1="217.8" y1="85.25" x2="220.8" y2="85.25" stroke="#231f20" stroke-width="1"/>
<text x="225.40" y="88.05" font-size="8.4" text-anchor="start" fill="#231f20" >12.5</text>
<line x1="217.8" y1="96.25" x2="219.60000000000002" y2="96.25" stroke="#231f20" stroke-width="0.8"/>
<line x1="217.8" y1="107.26" x2="220.8" y2="107.26" stroke="#231f20" stroke-width="1"/>
<text x="225.40" y="110.06" font-size="8.4" text-anchor="start" fill="#231f20" >10.0</text>
<line x1="217.8" y1="118.26" x2="219.60000000000002" y2="118.26" stroke="#231f20" stroke-width="0.8"/>
<line x1="217.8" y1="129.27" x2="220.8" y2="129.27" stroke="#231f20" stroke-width="1"/>
<text x="225.40" y="132.07" font-size="8.4" text-anchor="start" fill="#231f20" >7.5</text>
<line x1="217.8" y1="140.27" x2="219.60000000000002" y2="140.27" stroke="#231f20" stroke-width="0.8"/>
<line x1="217.8" y1="151.27" x2="220.8" y2="151.27" stroke="#231f20" stroke-width="1"/>
<text x="225.40" y="154.07" font-size="8.4" text-anchor="start" fill="#231f20" >5.0</text>
<line x1="217.8" y1="162.28" x2="219.60000000000002" y2="162.28" stroke="#231f20" stroke-width="0.8"/>
<line x1="217.8" y1="173.28" x2="220.8" y2="173.28" stroke="#231f20" stroke-width="1"/>
<text x="225.40" y="176.08" font-size="8.4" text-anchor="start" fill="#231f20" >2.5</text>
<line x1="217.8" y1="184.29" x2="219.60000000000002" y2="184.29" stroke="#231f20" stroke-width="0.8"/>
<line x1="217.8" y1="195.29" x2="220.8" y2="195.29" stroke="#231f20" stroke-width="1"/>
<text x="225.40" y="198.09" font-size="8.4" text-anchor="start" fill="#231f20" >0.0</text>
<line x1="52.40" y1="200.55" x2="52.40" y2="204.15" stroke="#231f20" stroke-width="1.1"/>
<text transform="translate(55.10,211.15) rotate(-45)" font-size="8.5" text-anchor="end" fill="#231f20">predose 1</text>
<line x1="75.20" y1="200.55" x2="75.20" y2="204.15" stroke="#231f20" stroke-width="1.1"/>
<text transform="translate(77.90,211.15) rotate(-45)" font-size="8.5" text-anchor="end" fill="#231f20">2.5 h postdose 1</text>
<line x1="98.00" y1="200.55" x2="98.00" y2="204.15" stroke="#231f20" stroke-width="1.1"/>
<text transform="translate(100.70,211.15) rotate(-45)" font-size="8.5" text-anchor="end" fill="#231f20">72 h postdose 1</text>
<line x1="120.80" y1="200.55" x2="120.80" y2="204.15" stroke="#231f20" stroke-width="1.1"/>
<text transform="translate(123.50,211.15) rotate(-45)" font-size="8.5" text-anchor="end" fill="#231f20">48 h postdose 2</text>
<line x1="143.60" y1="200.55" x2="143.60" y2="204.15" stroke="#231f20" stroke-width="1.1"/>
<text transform="translate(146.30,211.15) rotate(-45)" font-size="8.5" text-anchor="end" fill="#231f20">48 h postdose 3</text>
<line x1="166.40" y1="200.55" x2="166.40" y2="204.15" stroke="#231f20" stroke-width="1.1"/>
<text transform="translate(169.10,211.15) rotate(-45)" font-size="8.5" text-anchor="end" fill="#231f20">2.5 h postdose 4</text>
<line x1="189.20" y1="200.55" x2="189.20" y2="204.15" stroke="#231f20" stroke-width="1.1"/>
<text transform="translate(191.90,211.15) rotate(-45)" font-size="8.5" text-anchor="end" fill="#231f20">72 h postdose 4</text>
<line x1="212.00" y1="200.55" x2="212.00" y2="204.15" stroke="#231f20" stroke-width="1.1"/>
<text transform="translate(214.70,211.15) rotate(-45)" font-size="8.5" text-anchor="end" fill="#231f20">48 h postdose 5</text>
<text transform="translate(9.0,135.9) rotate(-90)" font-size="9.2" text-anchor="middle" fill="#231f20" textLength="63.3" lengthAdjust="spacingAndGlyphs">Mean SAA (IU/mL)</text>
<text transform="translate(251.9,139.5) rotate(-90)" font-size="9.3" text-anchor="middle" fill="#231f20" textLength="126.2" lengthAdjust="spacingAndGlyphs">Plasma L-asparagine levels (μg/mL)</text>
<text x="132.15" y="268.8" font-size="10.3" text-anchor="middle" fill="#231f20" textLength="16.9" lengthAdjust="spacingAndGlyphs">Time</text>
<line x1="46.5" y1="163.75" x2="217.8" y2="163.75" stroke="#404040" stroke-width="1.35" stroke-dasharray="6.6,5.34"/>
<polyline points="52.40,120.20 75.20,194.60" fill="none" stroke="#3f78b8" stroke-width="1.25"/>
<polyline points="52.40,95.20 75.20,194.60" fill="none" stroke="#1f3f73" stroke-width="1.5" stroke-dasharray="4,2.8"/>
<polyline points="75.20,194.60 98.00,194.60 120.80,194.60 143.60,194.60 166.40,194.60 189.20,194.60 212.00,194.60" fill="none" stroke="#b0d8ec" stroke-width="1.1"/>
<polyline points="75.20,194.60 98.00,194.60 120.80,194.60 143.60,194.60 166.40,194.60 189.20,194.60 212.00,194.60" fill="none" stroke="#3a6a8e" stroke-width="1.15" stroke-dasharray="3,2.2"/>
<polyline points="75.20,153.00 98.00,157.50 120.80,152.50 143.60,151.50 166.40,149.60 189.20,158.50 212.00,153.20" fill="none" stroke="#45a845" stroke-width="1.2"/>
<polyline points="52.40,178.40 75.20,153.30 98.00,155.90 120.80,149.20 143.60,148.30 166.40,145.80 189.20,155.30 212.00,148.30" fill="none" stroke="#bb1d35" stroke-width="1.4"/>
<polyline points="75.20,145.90 98.00,154.10 120.80,150.00 143.60,149.50 166.40,144.10 189.20,152.80 212.00,151.00" fill="none" stroke="#c7c99c" stroke-width="1.0"/>
<path d="M75.20,150.80 L77.20,154.70 L73.20,154.70 Z" fill="#fff" stroke="#45a845" stroke-width="1.0"/>
<path d="M98.00,155.30 L100.00,159.20 L96.00,159.20 Z" fill="#fff" stroke="#45a845" stroke-width="1.0"/>
<path d="M120.80,150.30 L122.80,154.20 L118.80,154.20 Z" fill="#fff" stroke="#45a845" stroke-width="1.0"/>
<path d="M143.60,149.30 L145.60,153.20 L141.60,153.20 Z" fill="#fff" stroke="#45a845" stroke-width="1.0"/>
<path d="M166.40,147.40 L168.40,151.30 L164.40,151.30 Z" fill="#fff" stroke="#45a845" stroke-width="1.0"/>
<path d="M189.20,156.30 L191.20,160.20 L187.20,160.20 Z" fill="#fff" stroke="#45a845" stroke-width="1.0"/>
<path d="M212.00,151.00 L214.00,154.90 L210.00,154.90 Z" fill="#fff" stroke="#45a845" stroke-width="1.0"/>
<circle cx="52.40" cy="178.40" r="1.9" fill="#fff" stroke="#bb1d35" stroke-width="1.0"/>
<circle cx="75.20" cy="153.30" r="1.9" fill="#fff" stroke="#bb1d35" stroke-width="1.0"/>
<circle cx="98.00" cy="155.90" r="1.9" fill="#fff" stroke="#bb1d35" stroke-width="1.0"/>
<circle cx="120.80" cy="149.20" r="1.9" fill="#fff" stroke="#bb1d35" stroke-width="1.0"/>
<circle cx="143.60" cy="148.30" r="1.9" fill="#fff" stroke="#bb1d35" stroke-width="1.0"/>
<circle cx="166.40" cy="145.80" r="1.9" fill="#fff" stroke="#bb1d35" stroke-width="1.0"/>
<circle cx="189.20" cy="155.30" r="1.9" fill="#fff" stroke="#bb1d35" stroke-width="1.0"/>
<circle cx="212.00" cy="148.30" r="1.9" fill="#fff" stroke="#bb1d35" stroke-width="1.0"/>
<rect x="73.40" y="144.10" width="3.60" height="3.60" fill="none" stroke="#c7c99c" stroke-width="0.9"/>
<rect x="96.20" y="152.30" width="3.60" height="3.60" fill="none" stroke="#c7c99c" stroke-width="0.9"/>
<rect x="119.00" y="148.20" width="3.60" height="3.60" fill="none" stroke="#c7c99c" stroke-width="0.9"/>
<rect x="141.80" y="147.70" width="3.60" height="3.60" fill="none" stroke="#c7c99c" stroke-width="0.9"/>
<rect x="164.60" y="142.30" width="3.60" height="3.60" fill="none" stroke="#c7c99c" stroke-width="0.9"/>
<rect x="187.40" y="151.00" width="3.60" height="3.60" fill="none" stroke="#c7c99c" stroke-width="0.9"/>
<rect x="210.20" y="149.20" width="3.60" height="3.60" fill="none" stroke="#c7c99c" stroke-width="0.9"/>
<rect x="50.40" y="118.20" width="4.00" height="4.00" fill="#c4e4f4" stroke="#5aaedc" stroke-width="1.0"/>
<circle cx="52.40" cy="122.40" r="1.9" fill="#fff" stroke="#6a2a6e" stroke-width="1.0"/>
<path d="M52.40,93.22 L54.20,96.73 L50.60,96.73 Z" fill="#fff" stroke="#1f3f73" stroke-width="1.0"/>
<rect x="73.45" y="192.85" width="3.5" height="3.5" fill="#78b8de" stroke="#245f8e" stroke-width="1.1"/>
<rect x="73.80" y="193.60" width="2.8" height="0.9" fill="#1f5585"/>
<rect x="96.25" y="192.85" width="3.5" height="3.5" fill="#78b8de" stroke="#245f8e" stroke-width="1.1"/>
<rect x="96.60" y="193.60" width="2.8" height="0.9" fill="#1f5585"/>
<rect x="119.05" y="192.85" width="3.5" height="3.5" fill="#78b8de" stroke="#245f8e" stroke-width="1.1"/>
<rect x="119.40" y="193.60" width="2.8" height="0.9" fill="#1f5585"/>
<rect x="141.85" y="192.85" width="3.5" height="3.5" fill="#78b8de" stroke="#245f8e" stroke-width="1.1"/>
<rect x="142.20" y="193.60" width="2.8" height="0.9" fill="#1f5585"/>
<rect x="164.65" y="192.85" width="3.5" height="3.5" fill="#78b8de" stroke="#245f8e" stroke-width="1.1"/>
<rect x="165.00" y="193.60" width="2.8" height="0.9" fill="#1f5585"/>
<rect x="187.45" y="192.85" width="3.5" height="3.5" fill="#78b8de" stroke="#245f8e" stroke-width="1.1"/>
<rect x="187.80" y="193.60" width="2.8" height="0.9" fill="#1f5585"/>
<rect x="210.25" y="192.85" width="3.5" height="3.5" fill="#78b8de" stroke="#245f8e" stroke-width="1.1"/>
<rect x="210.60" y="193.60" width="2.8" height="0.9" fill="#1f5585"/>
</g>
</svg>
</body></html>
